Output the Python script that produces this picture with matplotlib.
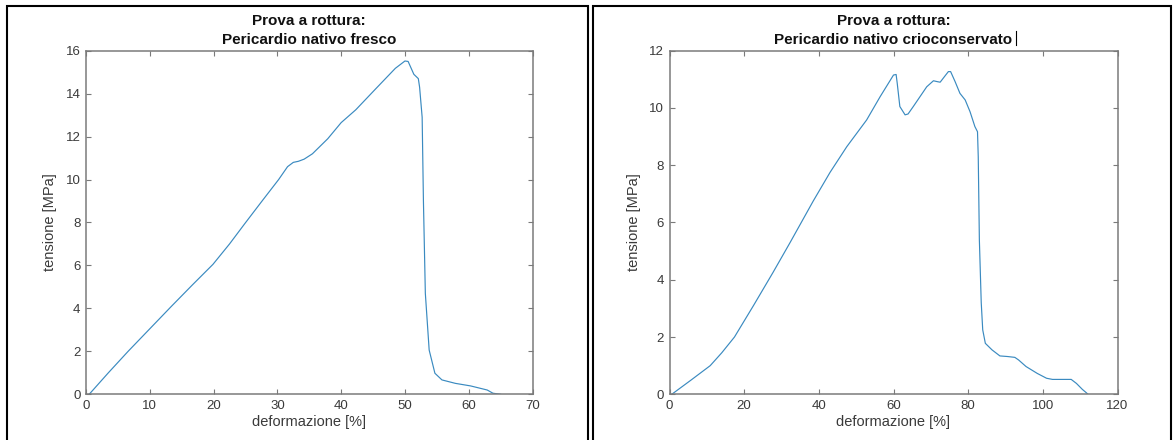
import matplotlib
matplotlib.use('Agg')
import matplotlib.pyplot as plt
from matplotlib.patches import Rectangle
from matplotlib.lines import Line2D

plt.rcParams['font.family'] = ['Liberation Sans', 'DejaVu Sans']

# stress-strain curve, fresh pericardium
fresco_def = [0.5, 3.5, 6.6, 10.0, 13.4, 16.7, 19.9, 22.5, 24.9, 27.6, 30.2, 31.6,
              32.5, 33.3, 34.2, 35.5, 37.9, 40.0, 42.3, 45.5, 48.5, 50.0, 50.5,
              51.4, 52.1, 52.3, 52.7, 52.9, 53.2, 53.8, 54.7, 55.8, 57.9, 60.3,
              62.9, 63.8, 65.0]
fresco_ten = [0.0, 1.0, 2.0, 3.05, 4.1, 5.1, 6.05, 7.0, 7.95, 9.0, 10.0, 10.6,
              10.8, 10.85, 10.95, 11.2, 11.9, 12.65, 13.25, 14.25, 15.18, 15.52, 15.5,
              14.9, 14.7, 14.3, 12.9, 9.0, 4.7, 2.06, 0.98, 0.67, 0.51, 0.39,
              0.2, 0.05, 0.0]

# stress-strain curve, cryopreserved pericardium
crio_def = [0.6, 5.8, 10.9, 14.0, 17.4, 22.5, 27.7, 32.3, 38.5, 43.0, 47.5, 52.8,
            56.4, 60.0, 60.7, 61.0, 61.7, 63.1, 63.9, 65.3, 68.9, 70.7, 71.7, 72.5,
            73.8, 74.7, 75.3, 76.5, 77.8, 79.2, 80.5, 81.8, 82.5, 82.7, 83.0, 83.5,
            83.9, 84.6, 86.4, 88.5, 90.5, 92.5, 93.5, 95.5, 98.5, 101.0, 102.6,
            107.6, 109.0, 110.6, 111.6, 112.1]
crio_ten = [0.0, 0.5, 1.0, 1.45, 2.0, 3.1, 4.25, 5.3, 6.75, 7.75, 8.65, 9.58,
            10.39, 11.15, 11.17, 10.86, 10.05, 9.76, 9.79, 10.05, 10.74, 10.95, 10.92, 10.9,
            11.12, 11.27, 11.27, 10.92, 10.51, 10.28, 9.87, 9.35, 9.17, 8.3, 5.39, 3.2,
            2.25, 1.78, 1.55, 1.34, 1.32, 1.29, 1.2, 0.97, 0.73, 0.56, 0.52,
            0.52, 0.38, 0.17, 0.06, 0.0]

titoli = ['Prova a rottura:\nPericardio nativo fresco',
          'Prova a rottura:\nPericardio nativo crioconservato']

W, H = 1176, 440
fig = plt.figure(figsize=(W / 100, H / 100), dpi=100)

def px_axes(x0, x1, y0, y1):
    return fig.add_axes([x0 / W, 1 - y1 / H, (x1 - x0) / W, (y1 - y0) / H])

ax1 = px_axes(86, 532.5, 50.7, 394.3)
ax2 = px_axes(669.5, 1117.5, 50.7, 394.3)

grigio = '#7a7a7a'
testo = '#3a3a3a'

def stile(ax, x, y, xlim, ylim, xt, yt, titolo):
    ax.plot(x, y, color='#3a8ac0', lw=0.85)
    ax.set_xlim(*xlim)
    ax.set_ylim(*ylim)
    ax.set_xticks(xt)
    ax.set_yticks(yt)
    ax.tick_params(direction='in', length=3.5, width=0.8, colors=grigio,
                   labelcolor=testo, labelsize=9.5, top=True, right=True, pad=4)
    for s in ax.spines.values():
        s.set_color(grigio)
        s.set_linewidth(1.1)
    ax.set_xlabel('deformazione [%]', fontsize=10.5, color=testo, labelpad=2)
    ax.set_ylabel('tensione [MPa]', fontsize=10.5, color=testo, labelpad=6)
    ax.set_title(titolo, fontsize=11, fontweight='bold', color='#111111',
                 linespacing=1.4, pad=5)

stile(ax1, fresco_def, fresco_ten, (0, 70), (0, 16), range(0, 71, 10),
      range(0, 17, 2), titoli[0])
stile(ax2, crio_def, crio_ten, (0, 120), (0, 12), range(0, 121, 20),
      range(0, 13, 2), titoli[1])

# black frames around each panel
for x0, x1 in [(7, 588), (592.5, 1171)]:
    fig.add_artist(Rectangle((x0 / W, -0.05), (x1 - x0) / W, (H + 22 - 6.5) / H,
                             transform=fig.transFigure, fill=False,
                             edgecolor='black', lw=1.5))

# text cursor after the second title
fig.add_artist(Line2D([1016 / W, 1016 / W], [1 - 31 / H, 1 - 45 / H],
                      transform=fig.transFigure, color='black', lw=0.8))

fig.savefig('out.png', dpi=100)
